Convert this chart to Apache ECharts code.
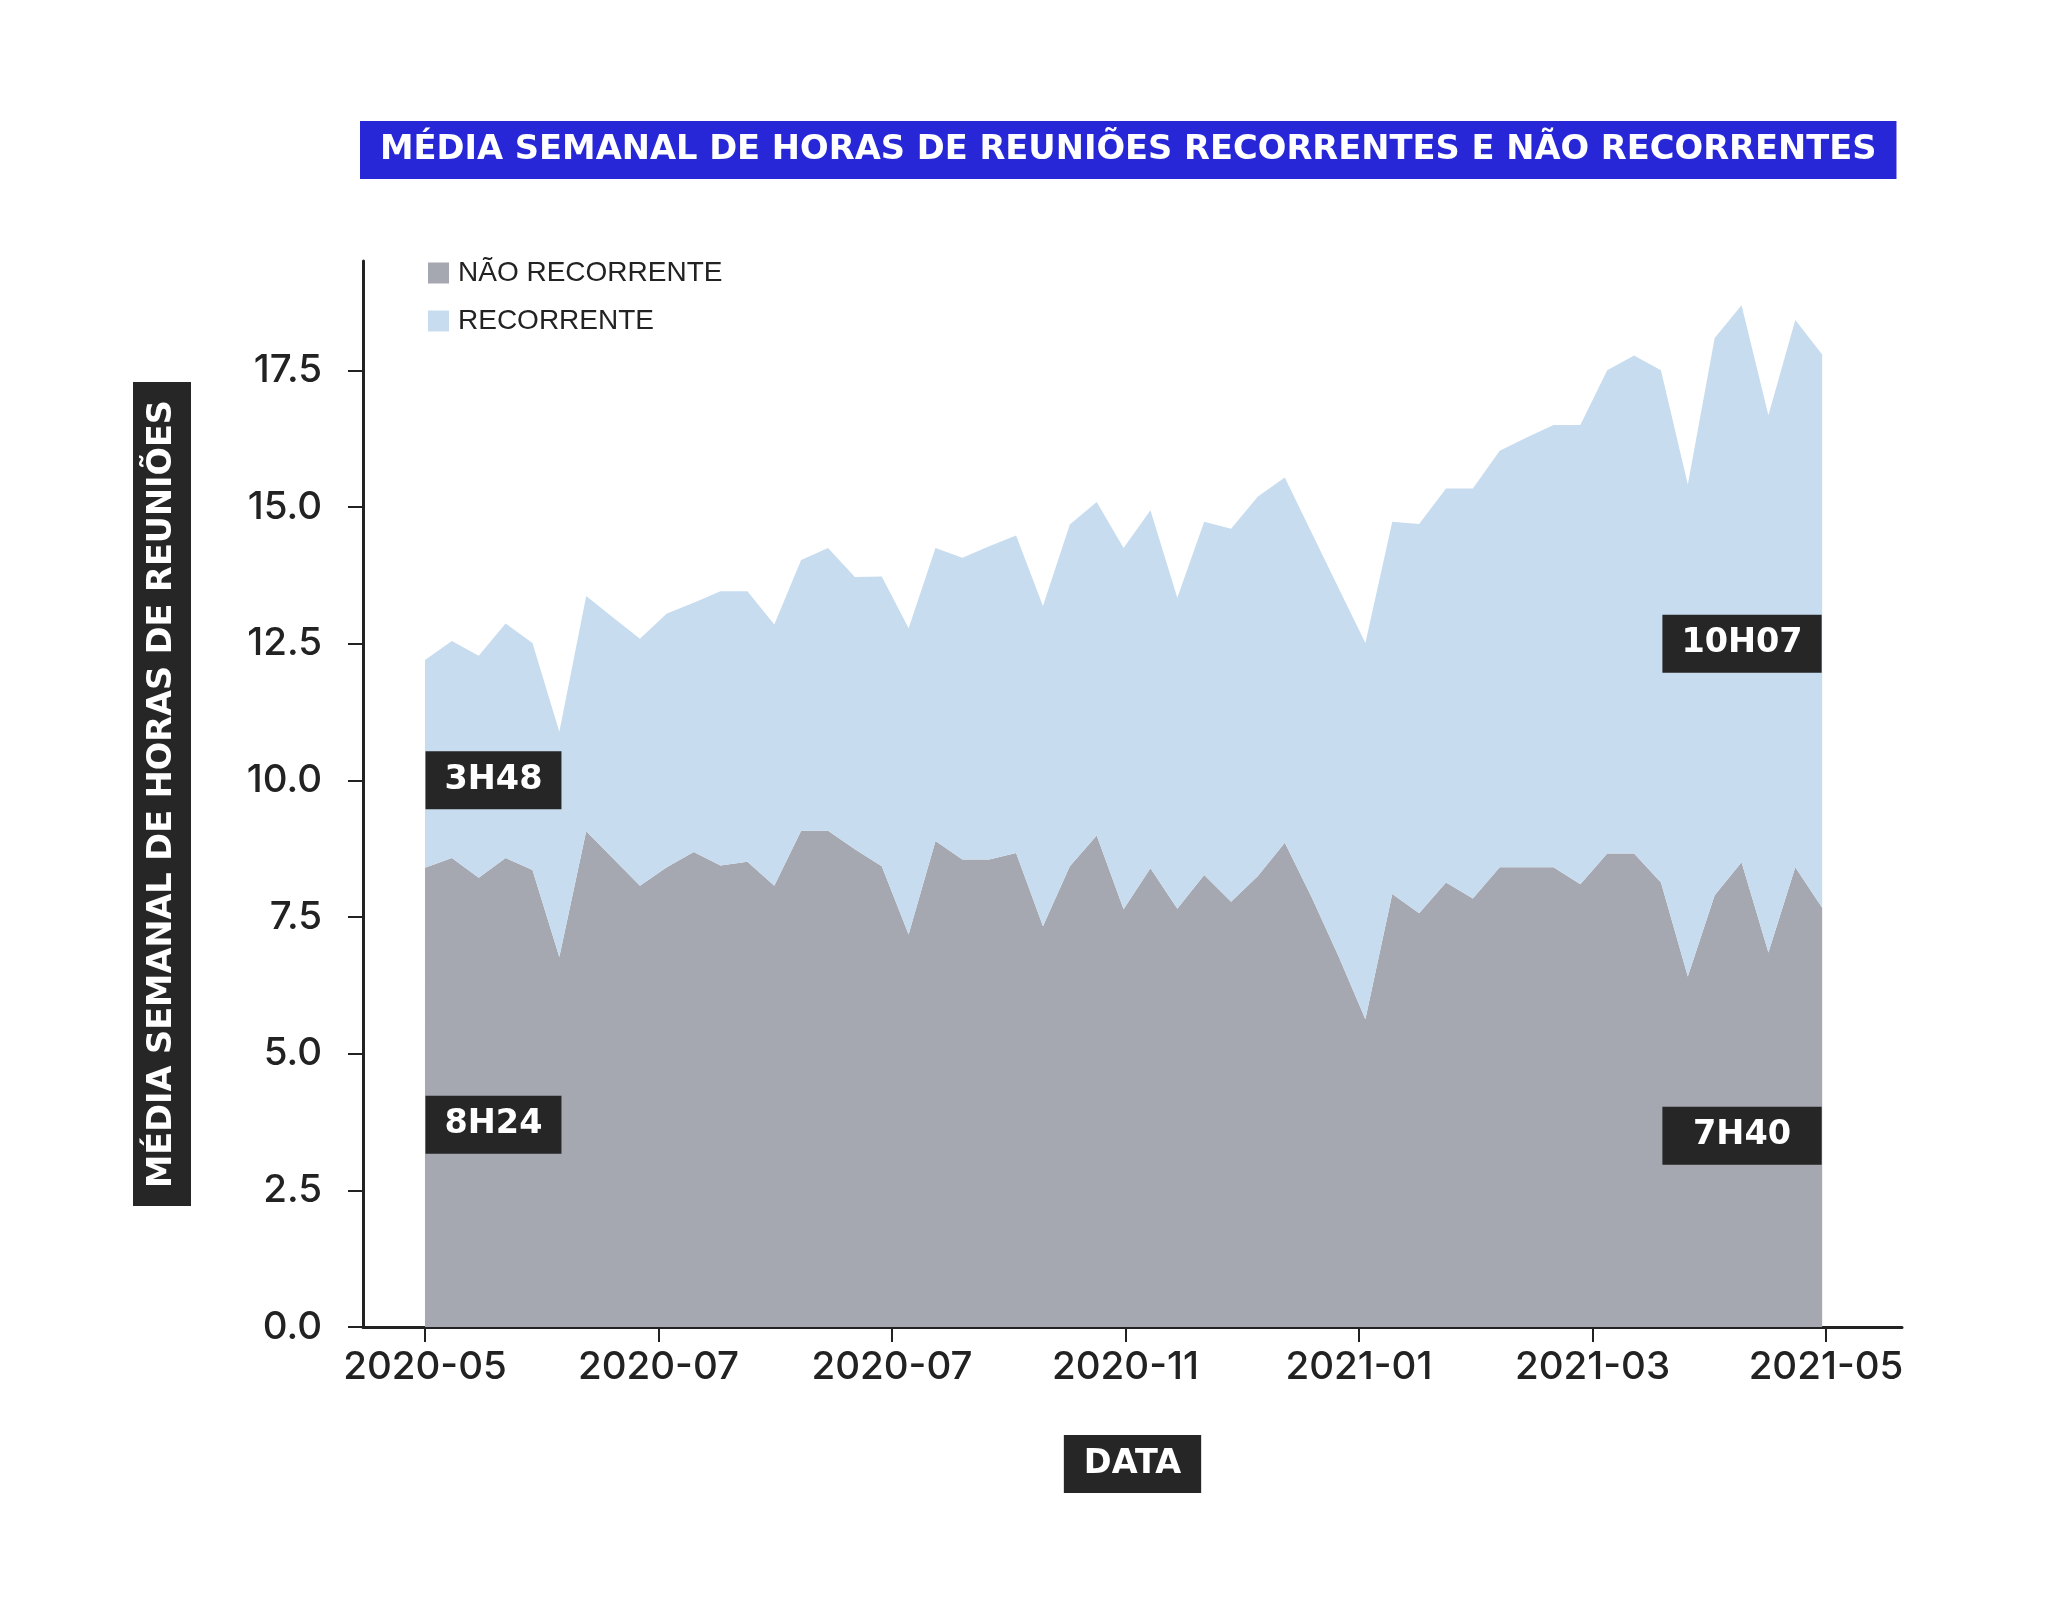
<!DOCTYPE html>
<html>
<head>
<meta charset="utf-8">
<script src="https://cdn.jsdelivr.net/npm/echarts@6/dist/echarts.min.js"></script>
<style>
html,body{margin:0;padding:0;background:#fff;}
#chart{width:2048px;height:1604px;}
</style>
</head>
<body>
<div id="chart"></div>
<script>
// ---- DATA ----
const weeks = [
  '2020-05-01','2020-05-08','2020-05-15','2020-05-22','2020-05-29',
  '2020-06-05','2020-06-12','2020-06-19','2020-06-26',
  '2020-07-03','2020-07-10','2020-07-17','2020-07-24','2020-07-31',
  '2020-08-07','2020-08-14','2020-08-21','2020-08-28',
  '2020-09-04','2020-09-11','2020-09-18','2020-09-25',
  '2020-10-02','2020-10-09','2020-10-16','2020-10-23','2020-10-30',
  '2020-11-06','2020-11-13','2020-11-20','2020-11-27',
  '2020-12-04','2020-12-11','2020-12-18','2020-12-25',
  '2021-01-01','2021-01-08','2021-01-15','2021-01-22','2021-01-29',
  '2021-02-05','2021-02-12','2021-02-19','2021-02-26',
  '2021-03-05','2021-03-12','2021-03-19','2021-03-26',
  '2021-04-02','2021-04-09','2021-04-16','2021-04-23','2021-04-30'
];
const naoRecorrente = [
  8.40, 8.58, 8.22, 8.58, 8.36, 6.77, 9.07, 8.57, 8.07, 8.41,
  8.69, 8.44, 8.51, 8.07, 9.08, 9.08, 8.74, 8.43, 7.18, 8.89,
  8.55, 8.55, 8.67, 7.33, 8.43, 8.99, 7.64, 8.39, 7.65, 8.27,
  7.78, 8.25, 8.86, 7.86, 6.78, 5.63, 7.92, 7.57, 8.13, 7.84,
  8.41, 8.41, 8.41, 8.10, 8.66, 8.66, 8.13, 6.41, 7.90, 8.50,
  6.85, 8.41, 7.67
];
const recorrente = [
  3.80, 3.97, 4.06, 4.29, 4.15, 4.12, 4.30, 4.41, 4.52, 4.64,
  4.56, 5.02, 4.95, 4.78, 4.95, 5.17, 4.98, 5.30, 5.60, 5.36,
  5.52, 5.73, 5.81, 5.86, 6.25, 6.10, 6.61, 6.55, 5.69, 6.46,
  6.82, 6.94, 6.68, 6.67, 6.74, 6.88, 6.81, 7.12, 7.21, 7.50,
  7.62, 7.86, 8.09, 8.40, 8.84, 9.11, 9.37, 9.00, 10.19, 10.19,
  9.83, 10.01, 10.12
];
const seriesNames = ['NÃO RECORRENTE', 'RECORRENTE'];
const xTickLabels = ['2020-05','2020-07','2020-07','2020-11','2021-01','2021-03','2021-05'];
const yTickValues = [0, 2.5, 5, 7.5, 10, 12.5, 15, 17.5];
const annoText = ['3H48', '8H24', '10H07', '7H40'];
const annoValue = [10.0, 3.7, 12.5, 3.5];
const annoAt = ['first', 'first', 'last', 'last'];

// ---- helpers ----
const DAY = 86400000;
const ts = d => Date.parse(d + 'T00:00:00Z');
const origin = ts('2020-05-01');
const dayOf = d => (ts(d) - origin) / DAY;
const spanDays = dayOf('2021-05-01');
const xTickPos = xTickLabels.map((_, i) => i * spanDays / (xTickLabels.length - 1));
const xs = weeks.map(dayOf);

const boxFont = {family: 'DejaVu Sans', weight: 'bold', size: 33.5};
const boxText = {
  color: '#ffffff', backgroundColor: '#262626',
  fontFamily: boxFont.family, fontWeight: boxFont.weight, fontSize: boxFont.size, lineHeight: 34
};
const tickText = {fontFamily: 'Inter', fontWeight: 500, fontSize: 38.5, color: '#222222'};

// equal-width annotation boxes on each side
const ctx = document.createElement('canvas').getContext('2d');
ctx.font = boxFont.weight + ' ' + boxFont.size + 'px "' + boxFont.family + '"';
const annoW = annoText.map(t => ctx.measureText(t).width);
const sideMax = {};
annoAt.forEach((s, i) => { sideMax[s] = Math.max(sideMax[s] || 0, annoW[i]); });
const PADX = 19;

const chart = echarts.init(document.getElementById('chart'), null, {renderer: 'canvas'});
chart.setOption({
  animation: false,
  backgroundColor: '#ffffff',
  title: {
    text: 'MÉDIA SEMANAL DE HORAS DE REUNIÕES RECORRENTES E NÃO RECORRENTES',
    left: 360, top: 121,
    padding: [12, 20, 12, 20],
    backgroundColor: '#2727d8',
    textStyle: {color: '#ffffff', fontFamily: 'DejaVu Sans', fontWeight: 'bold', fontSize: 33.7, lineHeight: 34}
  },
  legend: {
    orient: 'vertical', left: 428, top: 259, padding: 0,
    itemWidth: 21, itemHeight: 21, itemGap: 20,
    icon: 'rect',
    data: seriesNames,
    textStyle: {fontFamily: 'Liberation Sans', fontSize: 28, color: '#222222', padding: [0, 0, 0, 4]}
  },
  grid: {left: 363, right: 146, top: 261, bottom: 277, containLabel: false, outerBoundsMode: 'none'},
  xAxis: {
    type: 'value',
    min: -16.15, max: 384.8,
    axisLine: {show: true, onZero: false, lineStyle: {color: '#222222', width: 3}},
    axisTick: {show: true, customValues: xTickPos, length: 15, lineStyle: {color: '#222222', width: 2}},
    axisLabel: Object.assign({
      customValues: xTickPos, margin: 21, hideOverlap: false,
      formatter: v => {
        const i = xTickPos.findIndex(p => Math.abs(p - v) < 1e-6);
        return i >= 0 ? xTickLabels[i] : '';
      }
    }, tickText),
    splitLine: {show: false},
    name: 'DATA', nameLocation: 'middle', nameGap: 108,
    nameTextStyle: Object.assign({padding: [12, 20, 12, 20]}, boxText)
  },
  yAxis: {
    type: 'value',
    min: 0, max: 19.5,
    axisLine: {show: true, onZero: false, lineStyle: {color: '#222222', width: 3}},
    axisTick: {show: true, customValues: yTickValues, length: 15, lineStyle: {color: '#222222', width: 2}},
    axisLabel: Object.assign({
      customValues: yTickValues, margin: 41,
      formatter: v => v.toFixed(1)
    }, tickText),
    splitLine: {show: false},
    name: 'MÉDIA SEMANAL DE HORAS DE REUNIÕES', nameLocation: 'middle', nameRotate: 90, nameGap: 172,
    nameTextStyle: Object.assign({padding: [12, 18, 12, 18]}, boxText)
  },
  series: [
    {
      name: seriesNames[0], type: 'line', stack: 'total',
      dimensions: ['horas', 'dia'],
      encode: {x: 1, y: 0},
      data: xs.map((x, i) => [naoRecorrente[i], x]),
      symbol: 'none', showSymbol: false,
      lineStyle: {width: 0},
      itemStyle: {color: '#a5a7b1'},
      areaStyle: {color: '#a5a7b1', opacity: 1},
      z: 2
    },
    {
      name: seriesNames[1], type: 'line', stack: 'total',
      dimensions: ['horas', 'dia'],
      encode: {x: 1, y: 0},
      data: xs.map((x, i) => [recorrente[i], x]),
      symbol: 'none', showSymbol: false,
      lineStyle: {width: 0},
      itemStyle: {color: '#c8dcef'},
      areaStyle: {color: '#c8dcef', opacity: 1},
      z: 2
    },
    {
      type: 'scatter', z: 5,
      symbolSize: 1,
      itemStyle: {color: 'rgba(0,0,0,0)', opacity: 1},
      data: annoText.map((t, i) => {
        const extra = (sideMax[annoAt[i]] - annoW[i]) / 2;
        return {
          name: t,
          value: [annoAt[i] === 'first' ? xs[0] : xs[xs.length - 1], annoValue[i]],
          label: {
            position: annoAt[i] === 'first' ? 'right' : 'left',
            padding: [12, PADX + extra, 12, PADX + extra]
          }
        };
      }),
      label: Object.assign({show: true, formatter: '{b}', distance: 0}, boxText)
    }
  ]
});
</script>
</body>
</html>
